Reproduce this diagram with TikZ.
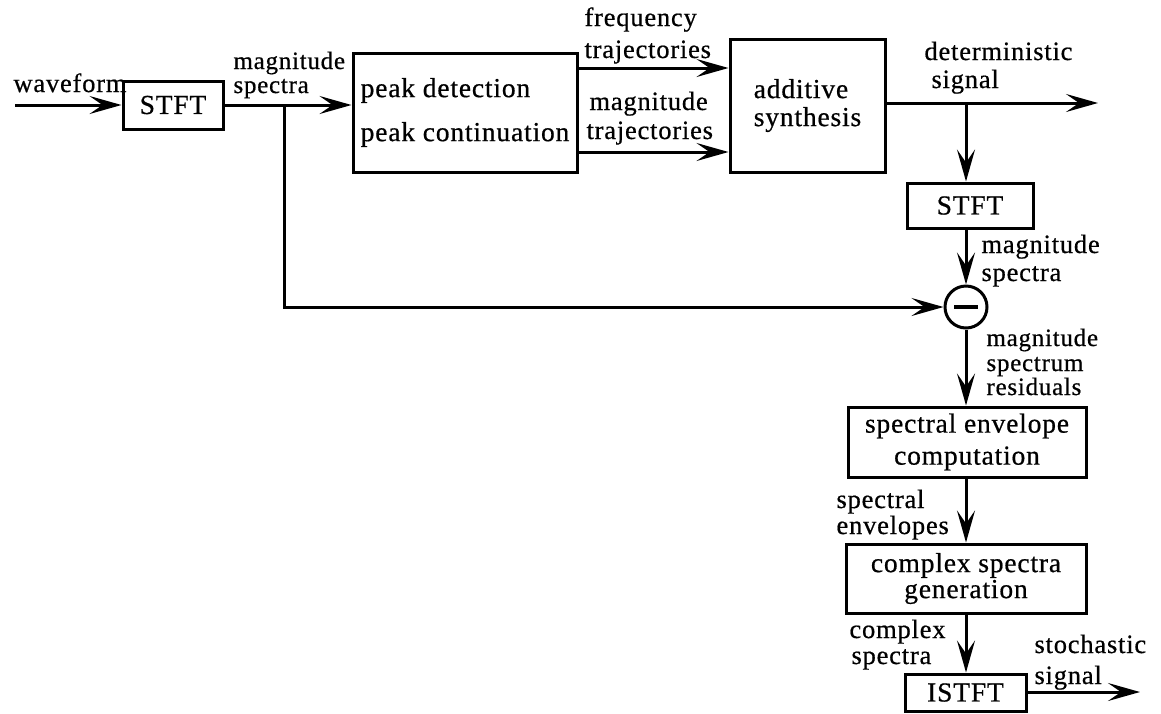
\documentclass[tikz,border=0pt]{standalone}
\usepackage{fontspec}
\setmainfont[LetterSpace=3,FakeBold=0.6]{Liberation Serif}
\usetikzlibrary{arrows.meta}
\begin{document}
\begin{tikzpicture}[x=1pt,y=-1pt,line width=3pt,
  >={Stealth[length=32pt,width=18pt,inset=13pt]},
  blk/.style={draw,line width=3pt,inner sep=0pt,font=\fontsize{27.5}{32}\selectfont},
  lbl/.style={anchor=base west,inner sep=0pt,font=\fontsize{26.5}{30}\selectfont},
  tight/.style={lbl,font=\fontsize{25}{28}\selectfont},
  flow/.style={->,line width=3pt}]
\useasboundingbox (0,0) rectangle (1161,713);

% processing blocks
\node[blk,minimum width=100pt,minimum height=48pt] (stft1) at (173,105) {STFT};
\node[blk,minimum width=224pt,minimum height=119pt,align=left] (peak) at (465,112.5)
  {peak detection\\[12pt]peak continuation};
\node[blk,minimum width=155pt,minimum height=133pt,align=left] (add) at (807.5,105.5)
  {additive\\[-4pt]synthesis};
\node[blk,minimum width=126pt,minimum height=45pt] (stft2) at (970,205.5) {STFT};
\node[draw,circle,line width=3pt,minimum size=42pt,inner sep=0pt] (minus) at (966,307) {};
\node[blk,minimum width=238pt,minimum height=70pt,align=center] (env) at (967,442)
  {spectral envelope\\computation};
\node[blk,minimum width=240pt,minimum height=69pt,align=center] (cplx) at (966,578.5)
  {complex spectra\\[-6pt]generation};
\node[blk,minimum width=121pt,minimum height=37pt] (istft) at (965.5,692.5) {ISTFT};

% minus sign of the subtraction
\draw[line width=4pt] ([xshift=-12pt]minus.center) -- ([xshift=12pt]minus.center);

% free ends and branch points
\coordinate (win) at (15,105);
\coordinate (split) at (284,105);
\coordinate (ft) at (0,68);
\coordinate (mt) at (0,152);
\coordinate (detout) at (1098,103);
\coordinate (detsplit) at (966,103);
\coordinate (stochout) at (1140,692);

% connections
\draw[flow] (win) -- (stft1.west);
\draw[flow] (stft1.east) -- (stft1.east -| peak.west);
\draw[flow] (split) |- (minus.west);
\draw[flow] (peak.east |- ft) -- (add.west |- ft);
\draw[flow] (peak.east |- mt) -- (add.west |- mt);
\draw[flow] (add.east |- detout) -- (detout);
\draw[flow] (detsplit) -- (detsplit |- stft2.north);
\draw[flow] (minus |- stft2.south) -- (minus.north);
\draw[flow] (minus.south) -- (minus |- env.north);
\draw[flow] (minus |- env.south) -- (minus |- cplx.north);
\draw[flow] (minus |- cplx.south) -- (minus |- istft.north);
\draw[flow] (istft.east |- stochout) -- (stochout);

% signal labels
\node[lbl] (l1) at (12,92) {waveform};
\node[tight] (l2a) at (232,69) {magnitude};
\node[tight] (l2b) at (232,93) {spectra};
\node[lbl] (l3a) at (583,26) {frequency};
\node[lbl] (l3b) at (583,58) {trajectories};
\node[lbl] (l4a) at (588,110) {magnitude};
\node[lbl] (l4b) at (585,139) {trajectories};
\node[lbl] (l5a) at (923,60) {deterministic};
\node[lbl] (l5b) at (930,88) {signal};
\node[lbl] (l6a) at (980,253) {magnitude};
\node[lbl] (l6b) at (980,281) {spectra};
\node[tight] (l7a) at (985,346) {magnitude};
\node[tight] (l7b) at (985,371) {spectrum};
\node[tight] (l7c) at (985,395) {residuals};
\node[lbl] (l8a) at (835,508) {spectral};
\node[lbl] (l8b) at (835,534) {envelopes};
\node[lbl] (l9a) at (848,638) {complex};
\node[lbl] (l9b) at (850,664) {spectra};
\node[lbl] (l10a) at (1033,653) {stochastic};
\node[lbl] (l10b) at (1033,684) {signal};
\end{tikzpicture}
\end{document}
